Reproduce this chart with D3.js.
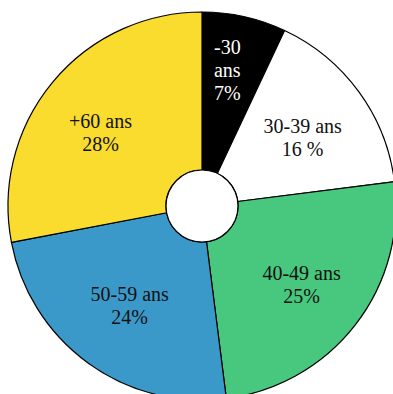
<!DOCTYPE html>
<html>
<head>
<meta charset="utf-8">
<script src="https://cdn.jsdelivr.net/npm/d3@7"></script>
<style>
  html, body { margin: 0; padding: 0; background: #fff; }
  svg { display: block; }
</style>
</head>
<body>
<svg id="chart" width="393" height="394"></svg>
<script>
// Age groups, their share in percent, and the label lines shown in each slice
const groups = ["-30", "30-39", "40-49", "50-59", "+60"];
const shares = [7, 16, 25, 24, 28];
const labelLines = [
  ["-30", "ans", "7%"],
  ["30-39 ans", "16 %"],
  ["40-49 ans", "25%"],
  ["50-59 ans", "24%"],
  ["+60 ans", "28%"]
];
const fills = ["#000000", "#ffffff", "#48c77e", "#3b99ca", "#f9dc2d"];
const textFills = ["#ffffff", "#111111", "#111111", "#111111", "#111111"];

const svg = d3.select("#chart");
const cx = 202, cy = 206;
const outerR = 194, innerR = 36;
// label placement: distance from centre per slice, plus a small nudge
const labelRadii = [139, 122, 126, 123, 124];
const labelNudgeX = [-5, 2, 0, 0, -6];
const labelNudgeY = [0, 3, 1, 0, 6];
const lineH = 23;

const rows = groups.map((g, i) => ({ group: g, value: shares[i], lines: labelLines[i] }));

const pie = d3.pie().value(d => d.value).sort(null);
const arc = d3.arc().innerRadius(innerR).outerRadius(outerR);

const g = svg.append("g").attr("transform", `translate(${cx},${cy})`);

const arcs = pie(rows);

g.selectAll("path.slice")
  .data(arcs)
  .join("path")
  .attr("class", "slice")
  .attr("d", arc)
  .attr("fill", (d, i) => fills[i])
  .attr("stroke", "#000")
  .attr("stroke-width", 1.2)
  .attr("stroke-linejoin", "round");

// white hole in the middle
g.append("circle")
  .attr("r", innerR)
  .attr("fill", "#fff")
  .attr("stroke", "#000")
  .attr("stroke-width", 1.2);

const labels = g.selectAll("text.label")
  .data(arcs)
  .join("text")
  .attr("class", "label")
  .attr("text-anchor", "middle")
  .attr("font-family", "'Liberation Serif', 'Times New Roman', serif")
  .attr("font-size", 20)
  .attr("fill", (d, i) => textFills[i])
  .attr("transform", (d, i) => {
    const r = labelRadii[i];
    const [x, y] = d3.arc().innerRadius(r).outerRadius(r).centroid(d);
    return `translate(${x + labelNudgeX[i]},${y + labelNudgeY[i]})`;
  });

labels.each(function (d) {
  const lines = d.data.lines;
  const n = lines.length;
  d3.select(this).selectAll("tspan")
    .data(lines)
    .join("tspan")
    .attr("x", 0)
    .attr("y", (t, j) => (j - (n - 1) / 2) * lineH + 7)
    .text(t => t);
});
</script>
</body>
</html>
